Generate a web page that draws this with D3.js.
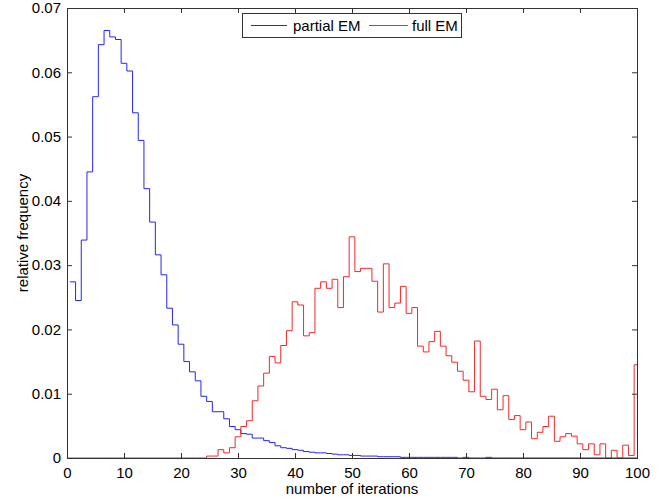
<!DOCTYPE html>
<html>
<head>
<meta charset="utf-8">
<script src="https://cdn.jsdelivr.net/npm/d3@7"></script>
<style>
  html, body { margin: 0; padding: 0; background: #fff; }
  svg { display: block; }
  text { font-family: "Liberation Sans", Arial, Helvetica, sans-serif; fill: #000; }
</style>
</head>
<body>
<div id="chart"></div>
<script>
// Histogram of iteration counts: bins centred on integers, width 1
const partialCenters = d3.range(1, 101);
const partialValues = [
  0.0274, 0.0245, 0.0339, 0.0445, 0.0562, 0.0643, 0.0665, 0.0655, 0.0651, 0.0614,
  0.0602, 0.0537, 0.0494, 0.0419, 0.0367, 0.0316, 0.0285, 0.0233, 0.0207, 0.0177,
  0.0150, 0.0134, 0.0120, 0.0096, 0.0088, 0.0072, 0.0072, 0.0061, 0.0049, 0.0044,
  0.0038, 0.0037, 0.0031, 0.0031, 0.0027, 0.0024, 0.0019, 0.0016, 0.0015, 0.0013,
  0.0012, 0.0010, 0.0009, 0.0008, 0.0008, 0.0007, 0.0006, 0.0005, 0.0005, 0.0004,
  0.0004, 0.0003, 0.0003, 0.0003, 0.0002, 0.0002, 0.0002, 0.0002, 0.0001, 0.0001,
  0.0001, 0.0001, 0.0001, 0.0001, 0.0001, 0.0001, 0.0001, 0.0001, 0.0000, 0.0001,
  0.0000, 0.0000, 0.0000, 0.0001, 0.0000, 0.0000, 0.0000, 0.0000, 0.0000, 0.0000,
  0.0000, 0.0000, 0.0000, 0.0000, 0.0000, 0.0000, 0.0000, 0.0000, 0.0000, 0.0000,
  0.0000, 0.0000, 0.0000, 0.0000, 0.0000, 0.0000, 0.0000, 0.0000, 0.0000, 0.0000
];

const fullCenters = d3.range(0, 101);
const fullValues = [
  0,
  0.0000, 0.0000, 0.0000, 0.0000, 0.0000, 0.0000, 0.0000, 0.0000, 0.0000, 0.0000,
  0.0000, 0.0000, 0.0000, 0.0000, 0.0000, 0.0000, 0.0000, 0.0000, 0.0000, 0.0000,
  0.0000, 0.0000, 0.0000, 0.0000, 0.0003, 0.0003, 0.0013, 0.0008, 0.0016, 0.0033,
  0.0049, 0.0058, 0.0089, 0.0112, 0.0132, 0.0158, 0.0148, 0.0175, 0.0198, 0.0243,
  0.0238, 0.0190, 0.0195, 0.0264, 0.0274, 0.0264, 0.0278, 0.0234, 0.0282, 0.0344,
  0.0290, 0.0295, 0.0295, 0.0275, 0.0227, 0.0302, 0.0234, 0.0241, 0.0267, 0.0225,
  0.0234, 0.0174, 0.0165, 0.0181, 0.0197, 0.0174, 0.0159, 0.0149, 0.0135, 0.0121,
  0.0103, 0.0182, 0.0096, 0.0091, 0.0107, 0.0075, 0.0097, 0.0060, 0.0066, 0.0044,
  0.0056, 0.0030, 0.0040, 0.0049, 0.0065, 0.0026, 0.0033, 0.0038, 0.0034, 0.0022,
  0.0013, 0.0022, 0.0005, 0.0022, 0.0000, 0.0012, 0.0000, 0.0020, 0.0004, 0.0145
];

const xTicks = d3.range(0, 101, 10);
const yTicks = [0, 0.01, 0.02, 0.03, 0.04, 0.05, 0.06, 0.07];
const seriesNames = ["partial EM", "full EM"];
const seriesColors = ["#2626ee", "#ee2a2a"];

const W = 661, H = 501;
const margin = { left: 67, right: 24, top: 8, bottom: 43 };
const innerW = W - margin.left - margin.right;
const innerH = H - margin.top - margin.bottom;

const svg = d3.select("#chart").append("svg")
  .attr("width", W).attr("height", H);

const g = svg.append("g")
  .attr("transform", `translate(${margin.left},${margin.top})`);

const x = d3.scaleLinear().domain([0, 100]).range([0, innerW]);
const y = d3.scaleLinear().domain([0, 0.07]).range([innerH, 0]);

const axisColor = "#333";
const tickLen = 5;

// Step outline for a histogram: each bin spans centre ± 0.5, clipped to the x domain
function stairPoints(centers, values) {
  const pts = [];
  centers.forEach((c, i) => {
    const lo = Math.max(c - 0.5, 0), hi = Math.min(c + 0.5, 100);
    pts.push([lo, values[i]], [hi, values[i]]);
  });
  return pts;
}
const line = d3.line().x(d => x(d[0])).y(d => y(d[1]));

g.append("clipPath").attr("id", "plotclip")
  .append("rect").attr("x", 0).attr("y", -1).attr("width", innerW + 1).attr("height", innerH + 2);

const plot = g.append("g").attr("clip-path", "url(#plotclip)");
plot.append("path")
  .attr("d", line(stairPoints(partialCenters, partialValues)))
  .attr("fill", "none").attr("stroke", seriesColors[0]).attr("stroke-width", 1);
plot.append("path")
  .attr("d", line(stairPoints(fullCenters, fullValues)))
  .attr("fill", "none").attr("stroke", seriesColors[1]).attr("stroke-width", 1);

// Axes on all four sides with inward ticks
function styleAxis(sel) {
  sel.select(".domain").remove();
  sel.selectAll(".tick line").attr("stroke", axisColor);
  sel.selectAll(".tick text").style("font-size", "15px");
}
g.append("g").attr("transform", `translate(0,${innerH})`)
  .call(d3.axisBottom(x).tickValues(xTicks).tickSize(-tickLen).tickPadding(9)
        .tickFormat(d3.format("d")))
  .call(styleAxis);
g.append("g")
  .call(d3.axisTop(x).tickValues(xTicks).tickSize(-tickLen).tickFormat(""))
  .call(styleAxis);
g.append("g")
  .call(d3.axisLeft(y).tickValues(yTicks).tickSize(-tickLen).tickPadding(6)
        .tickFormat(d => d === 0 ? "0" : d3.format(".2f")(d)))
  .call(styleAxis);
g.append("g").attr("transform", `translate(${innerW},0)`)
  .call(d3.axisRight(y).tickValues(yTicks).tickSize(-tickLen).tickFormat(""))
  .call(styleAxis);

g.append("rect")
  .attr("x", 0.5).attr("y", 0.5).attr("width", innerW).attr("height", innerH)
  .attr("fill", "none").attr("stroke", axisColor).attr("stroke-width", 1)
  .attr("shape-rendering", "crispEdges");

// Axis titles
svg.append("text")
  .attr("x", margin.left + innerW / 2).attr("y", 494)
  .attr("text-anchor", "middle").style("font-size", "15px")
  .text("number of iterations");
svg.append("text")
  .attr("transform", `translate(28,${margin.top + innerH / 2}) rotate(-90)`)
  .attr("text-anchor", "middle").style("font-size", "15px")
  .text("relative frequency");

// Legend
const legend = svg.append("g").attr("transform", "translate(242,13)");
legend.append("rect")
  .attr("x", 0.5).attr("y", 0.5).attr("width", 219).attr("height", 24)
  .attr("fill", "#fff").attr("stroke", axisColor).attr("stroke-width", 1);
const legendItems = [
  { x0: 9, x1: 45, tx: 51 },
  { x0: 127, x1: 166, tx: 170 }
];
legendItems.forEach((it, i) => {
  legend.append("line")
    .attr("x1", it.x0).attr("x2", it.x1).attr("y1", 12.5).attr("y2", 12.5)
    .attr("stroke", seriesColors[i]).attr("stroke-width", 1);
  legend.append("text")
    .attr("x", it.tx).attr("y", 18).style("font-size", "15px")
    .text(seriesNames[i]);
});
</script>
</body>
</html>
